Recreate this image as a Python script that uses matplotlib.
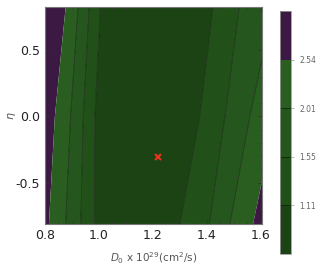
import matplotlib
matplotlib.use('Agg')
import matplotlib.pyplot as plt
import matplotlib.colors as mcolors
from matplotlib.ticker import MultipleLocator
import numpy as np

plt.rcParams['axes.unicode_minus'] = False

# contour levels shown on the colour bar
levels = [1.11, 1.55, 2.01, 2.54]
bar_edges = [0.67, 1.11, 1.55, 2.01, 2.54, 2.98]
band_colors = ['#1b4314', '#215019', '#25561d', '#295e20', '#3c1943']

# eta values where the contour positions were read
eta = [0.83, 0.0, -0.815]

# D0 positions of each contour at those eta values (left and right side)
left_254 = [0.877, 0.837, 0.815]
left_201 = [0.923, 0.895, 0.877]
left_155 = [0.964, 0.942, 0.933]
left_111 = [1.006, 0.985, 0.983]
right_111 = [1.423, 1.374, 1.300]
right_155 = [1.520, 1.467, 1.409]
right_201 = [1.645, 1.559, 1.485]
right_254 = [1.737, 1.654, 1.571]

best_fit = (1.22, -0.305)

fig = plt.figure(figsize=(3.16, 2.75), dpi=100)
ax = fig.add_axes([0.142, 0.185, 0.687, 0.79])

edge_l = [0.7, 0.7, 0.7]
edge_r = [1.8, 1.8, 1.8]
bounds = [edge_l, left_254, left_201, left_155, left_111,
          right_111, right_155, right_201, right_254, edge_r]
fills = [4, 3, 2, 1, 0, 1, 2, 3, 4]
for i, c in enumerate(fills):
    ax.fill_betweenx(eta, bounds[i], bounds[i + 1], color=band_colors[c],
                     lw=0, edgecolor='none')

for b in [left_201, left_155, left_111, right_111, right_155, right_201]:
    ax.plot(b, eta, color='#10250b', lw=0.5)

ax.plot(*best_fit, marker='x', color='#e8321e', ms=4.5, mew=1.5)

ax.set_xlim(0.8, 1.604)
ax.set_ylim(-0.815, 0.83)
ax.xaxis.set_major_locator(MultipleLocator(0.2))
ax.xaxis.set_minor_locator(MultipleLocator(0.05))
ax.yaxis.set_major_locator(MultipleLocator(0.5))
ax.yaxis.set_minor_locator(MultipleLocator(0.1))
ax.tick_params(which='both', direction='in', top=True, right=True,
               color='#333333', labelsize=9, labelcolor='#222222')
ax.tick_params(which='major', length=3, width=0.6)
ax.tick_params(which='minor', length=1.5, width=0.5)
for s in ax.spines.values():
    s.set_color('#777777')
    s.set_linewidth(0.8)

ax.set_xlabel(r'$D_0$ x 10$^{29}$(cm$^2$/s)', fontsize=7.5, color='#555555',
              labelpad=6)
ax.set_ylabel(r'$\eta$', fontsize=8, color='#555555')
ax.yaxis.set_label_coords(-0.125, 0.5)

cax = fig.add_axes([0.886, 0.076, 0.035, 0.884])
cmap = mcolors.ListedColormap(band_colors)
norm = mcolors.BoundaryNorm(bar_edges, cmap.N)
sm = plt.cm.ScalarMappable(norm=norm, cmap=cmap)
cb = fig.colorbar(sm, cax=cax, boundaries=bar_edges, spacing='uniform',
                  ticks=levels)
cb.ax.minorticks_off()
cb.ax.set_yticklabels([f'{v:.2f}' for v in levels])
cb.add_lines(levels[:3], ['#10250b'] * 3, [0.6] * 3)
cb.ax.tick_params(labelsize=5.5, labelcolor='#666666', color='#999999',
                  length=2.5, width=0.5)
cb.outline.set_edgecolor('#999999')
cb.outline.set_linewidth(0.6)

fig.savefig('out.png', dpi=100)
